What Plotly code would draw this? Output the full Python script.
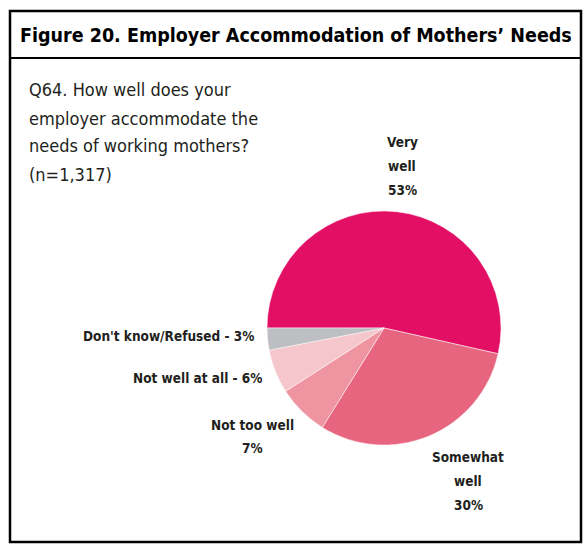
import plotly.graph_objects as go

W, H = 584, 544

categories = ["Very well", "Somewhat well", "Not too well", "Not well at all", "Don't know/Refused"]
values = [53, 30, 7, 6, 3]
colors = ["#E30F65", "#E8657F", "#EE95A1", "#F5C6CC", "#BDBEC2"]

# how each slice label is written in the figure, one entry per line
label_lines = [["Very", "well", "{}%"], ["Somewhat", "well", "{}%"], ["Not too well", "{}%"],
               ["Not well at all - {}%"], ["Don't know/Refused - {}%"]]

title = "Figure 20. Employer Accommodation of Mothers\u2019 Needs"
question = ["Q64. How well does your", "employer accommodate the",
            "needs of working mothers?", "(n=1,317)"]

COND = "DejaVu Sans Condensed, Liberation Sans Narrow, Arial Narrow, sans-serif"
INK = "#231F20"


def px(x, y):
    return x / W, 1 - y / H


cx, cy, r = 384, 328, 117
x0, y1 = px(cx - r, cy - r)
x1, y0 = px(cx + r, cy + r)

fig = go.Figure()
fig.add_trace(go.Pie(
    labels=categories,
    values=values,
    marker=dict(colors=colors, line=dict(color="white", width=0.5)),
    sort=False,
    direction="clockwise",
    rotation=270,
    textinfo="none",
    hoverinfo="label+percent",
    domain=dict(x=[x0, x1], y=[y0, y1]),
    showlegend=False,
))

# frame and title box
bx0, by0 = px(10, 542)
bx1, by1 = px(581, 11)
sep = px(0, 58)[1]
fig.add_shape(type="rect", xref="paper", yref="paper", x0=bx0, x1=bx1, y0=by0, y1=by1,
              line=dict(color="black", width=2.5))
fig.add_shape(type="line", xref="paper", yref="paper", x0=bx0, x1=bx1, y0=sep, y1=sep,
              line=dict(color="black", width=2))

tx, ty = px(296, 35)
annotations = [dict(text="<b>" + title + "</b>", x=tx, y=ty,
                    xanchor="center", yanchor="middle", showarrow=False,
                    font=dict(family=COND, size=19.5, color="black"))]

for i, line in enumerate(question):
    xx, yy = px(27, 90 + i * 28)
    annotations.append(dict(text=line, x=xx, y=yy, xanchor="left", yanchor="middle",
                            showarrow=False, font=dict(family=COND, size=18, color=INK)))

# first-line anchor of each label (x, y, anchor, line step)
label_pos = [(402, 142, "center", 24), (468, 457, "center", 24), (252, 425, "center", 23),
             (264, 378, "right", 0), (256, 336, "right", 0)]
for lines, v, (lx, ly, anc, step) in zip(label_lines, values, label_pos):
    for j, txt in enumerate(lines):
        xx, yy = px(lx, ly + j * step)
        annotations.append(dict(text="<b>" + txt.format(v) + "</b>", x=xx, y=yy,
                                xanchor=anc, yanchor="middle", showarrow=False,
                                font=dict(family=COND, size=13.5, color=INK)))

fig.update_layout(
    width=W, height=H,
    margin=dict(l=0, r=0, t=0, b=0),
    paper_bgcolor="white",
    plot_bgcolor="white",
    annotations=annotations,
)

# drop the default page margin so the figure sits at the window corner
fig.write_html("out.html", config={"displayModeBar": False},
               post_script="document.body.style.margin='0';document.body.style.overflow='hidden';")
